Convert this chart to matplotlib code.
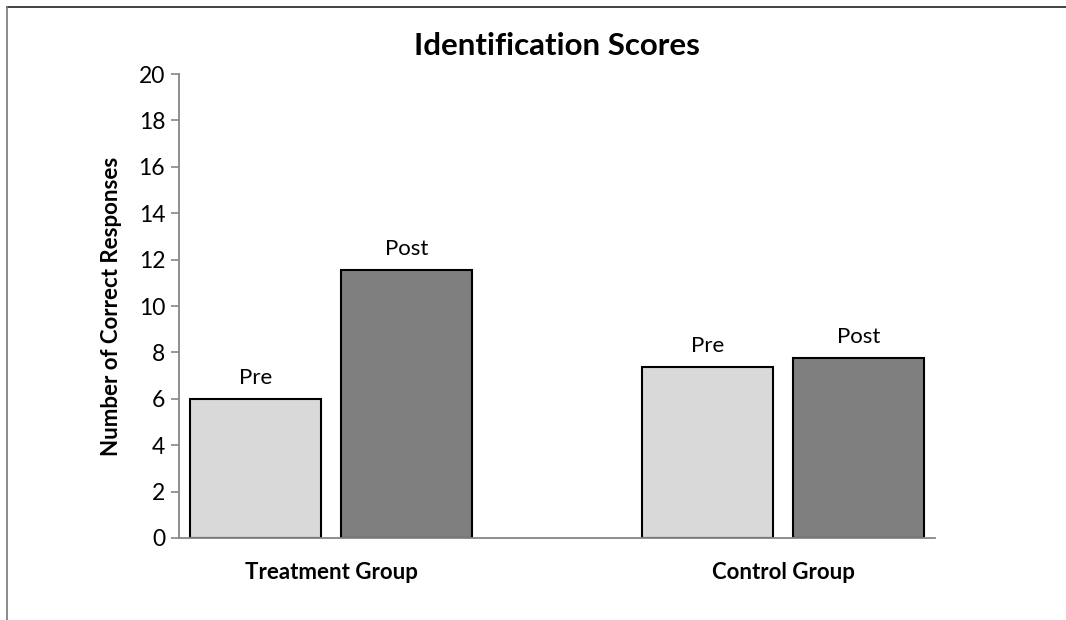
import numpy as np
import matplotlib
matplotlib.use("Agg")
import matplotlib.pyplot as plt
from matplotlib.lines import Line2D

plt.rcParams['font.family'] = ['Lato', 'DejaVu Sans']

groups = ["Treatment Group", "Control Group"]
phases = ["Pre", "Post"]
pre_scores = [6.0, 7.35]
post_scores = [11.55, 7.75]
yticks = list(range(0, 21, 2))

fig = plt.figure(figsize=(10.66, 6.2), dpi=100)
ax = fig.add_axes([0.168, 0.1323, 0.709, 0.7483])

x = np.arange(len(groups))
off = 0.167
w = 0.29
b1 = ax.bar(x - off, pre_scores, w, color="#d9d9d9", edgecolor="black", linewidth=1.5)
b2 = ax.bar(x + off, post_scores, w, color="#7f7f7f", edgecolor="black", linewidth=1.5)

for bars, name in [(b1, phases[0]), (b2, phases[1])]:
    for r in bars:
        ax.annotate(name, (r.get_x() + r.get_width() / 2, r.get_height()),
                    xytext=(0, 8), textcoords="offset points",
                    ha="center", va="bottom", fontsize=16)

ax.set_xlim(-0.336, 1.336)
ax.set_ylim(0, 20)
ax.set_yticks(yticks)
ax.tick_params(axis="y", labelsize=16.5, length=6, color="#868686", width=1.2, pad=4)
ax.set_xticks(x)
ax.set_xticklabels(groups, fontsize=16, fontweight="bold")
ax.tick_params(axis="x", length=0, pad=17)

for s in ["top", "right"]:
    ax.spines[s].set_visible(False)
for s in ["left", "bottom"]:
    ax.spines[s].set_color("#868686")
    ax.spines[s].set_linewidth(1.3)

ax.set_ylabel("Number of Correct Responses", fontsize=16, fontweight="bold", labelpad=12)
ax.set_title("Identification Scores", fontsize=22.5, fontweight="bold", pad=14)

# frame lines at top and left edge
fig.add_artist(Line2D([7 / 1066, 1], [1 - 7 / 620, 1 - 7 / 620], color="#222222", linewidth=1.2))
fig.add_artist(Line2D([7 / 1066, 7 / 1066], [0, 1 - 7 / 620], color="#777777", linewidth=1.2))

fig.savefig("out.png", dpi=100)
